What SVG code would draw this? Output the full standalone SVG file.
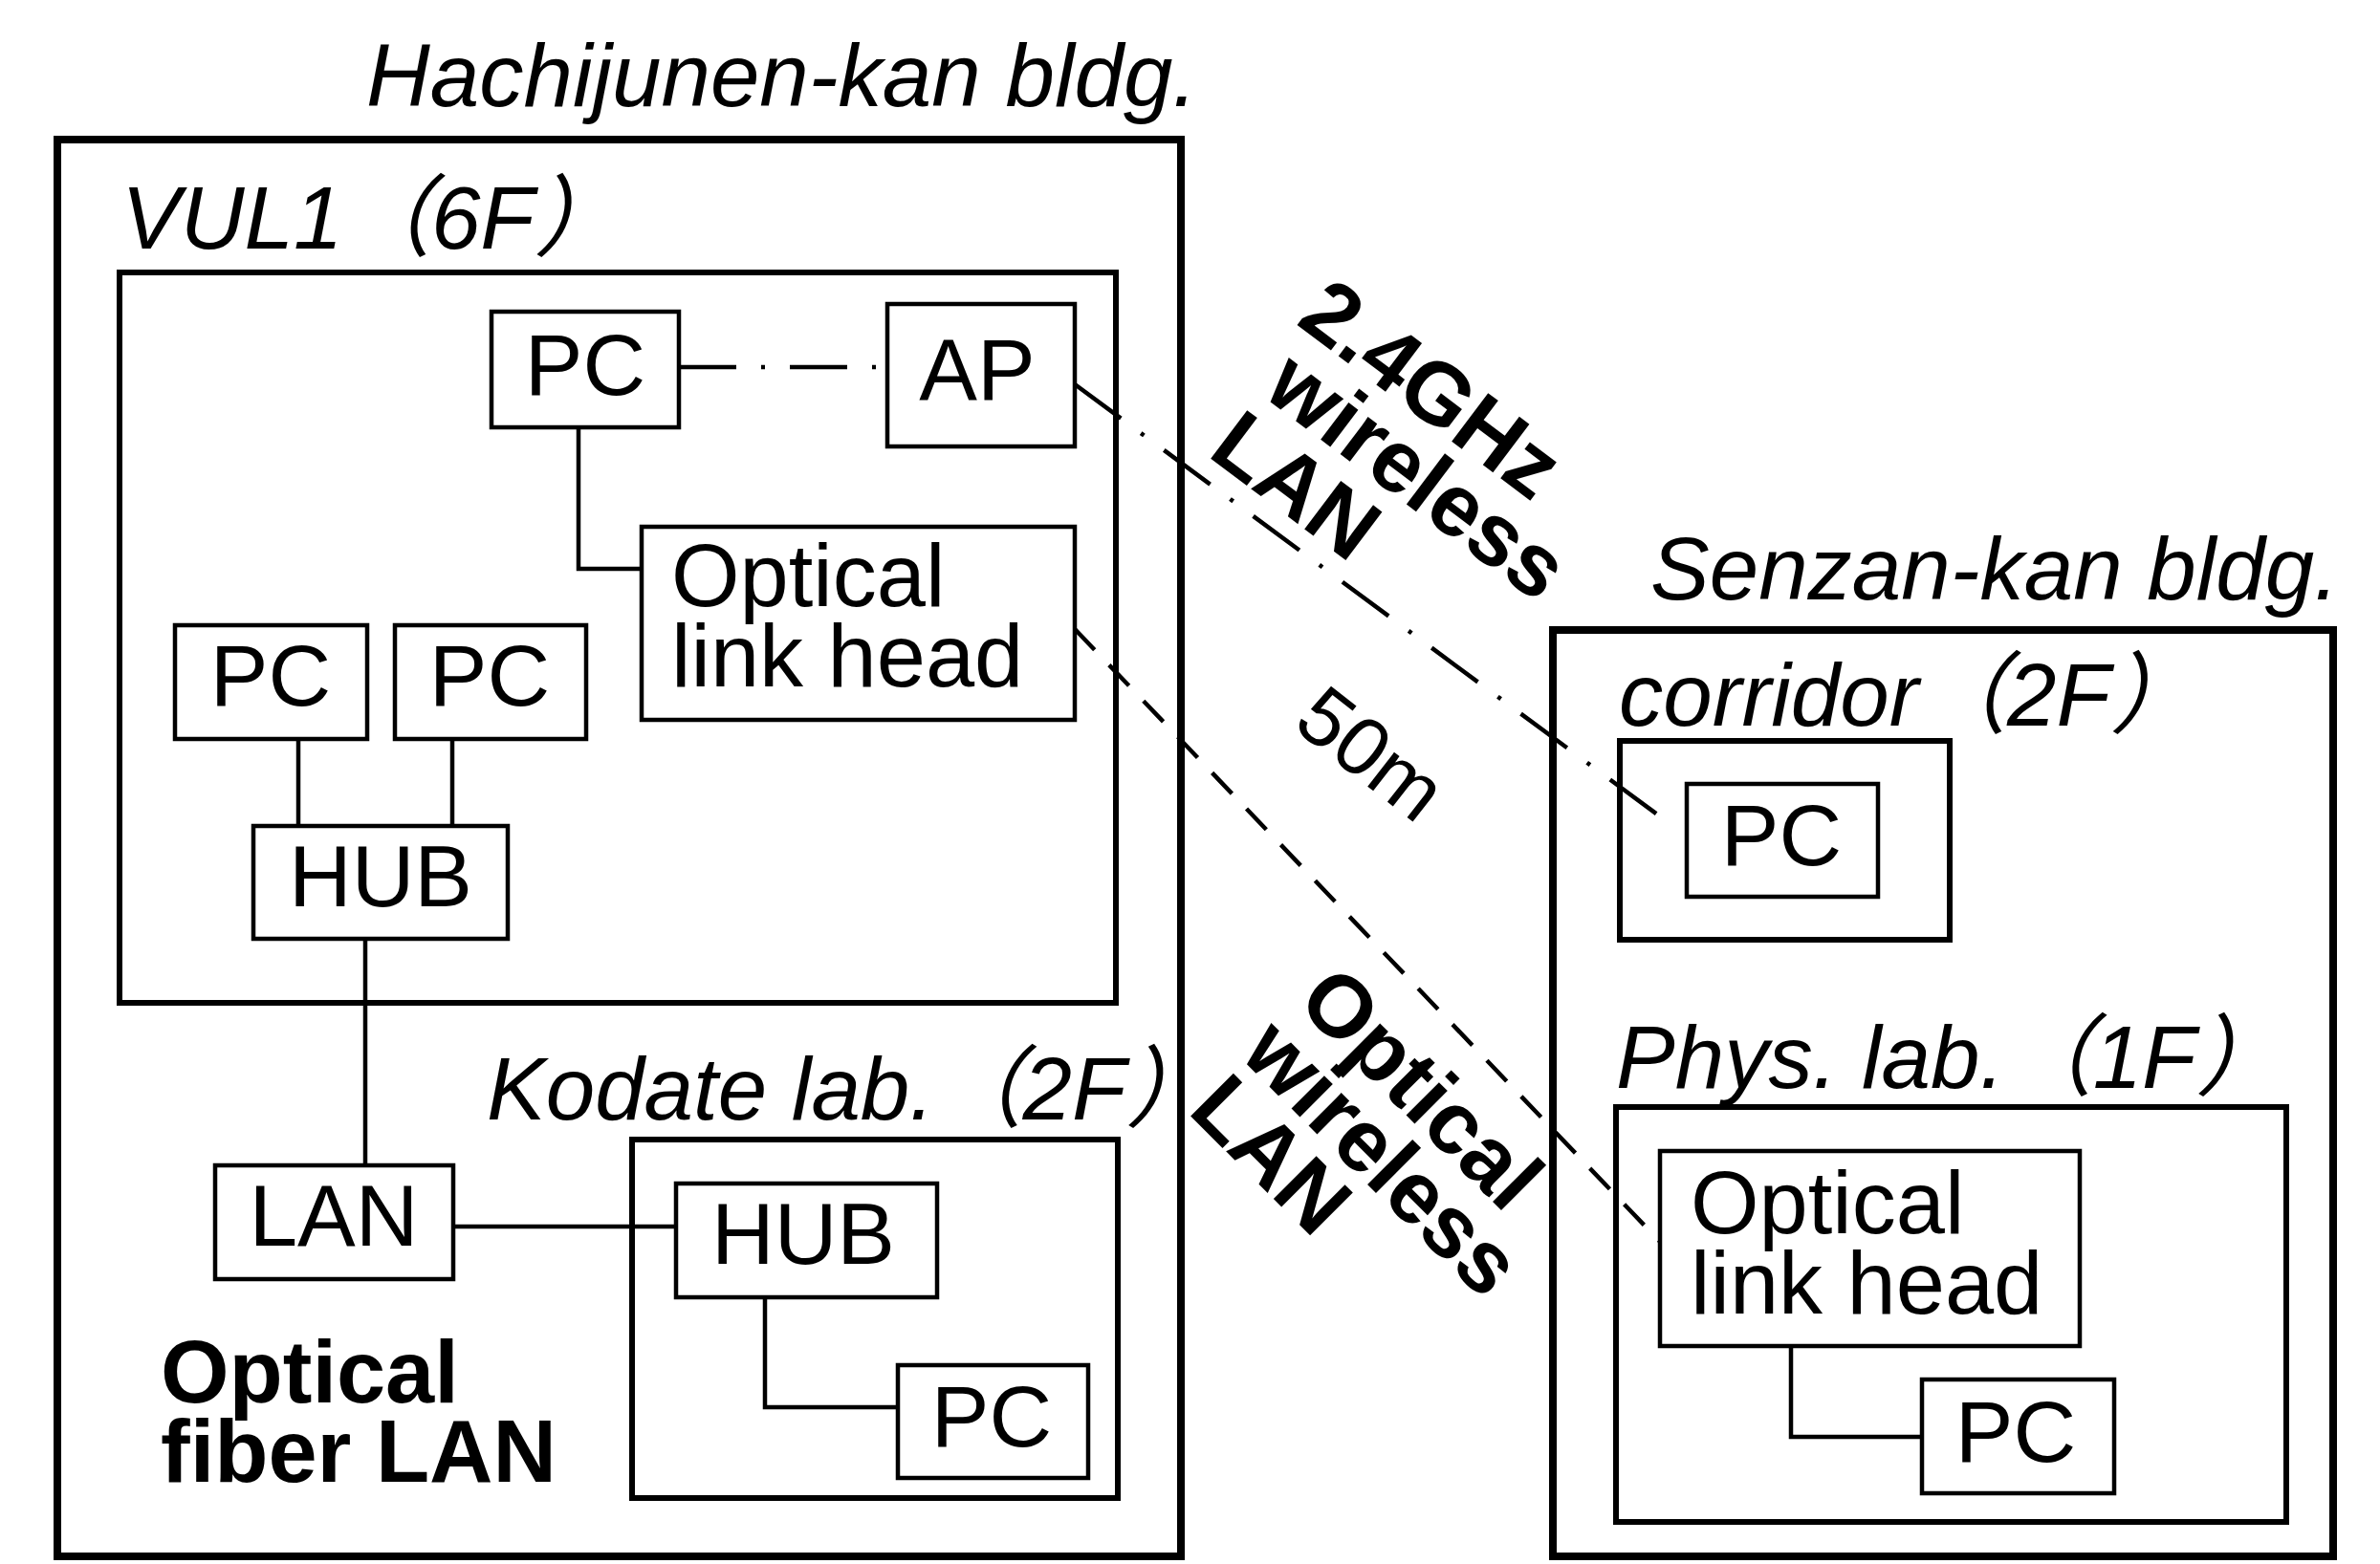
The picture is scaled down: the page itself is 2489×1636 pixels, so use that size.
<svg xmlns="http://www.w3.org/2000/svg" width="2489" height="1636" viewBox="0 0 2489 1636">
<style>
.bldg{fill:none;stroke:#000;stroke-width:8}
.room{fill:none;stroke:#000;stroke-width:6}
.box{fill:#fff;stroke:#000;stroke-width:4.5}
.lbl{font-family:"Liberation Sans","Noto Sans CJK JP",sans-serif;font-size:91px;fill:#000}
.c{text-anchor:middle}
.it{font-style:italic;font-size:92.5px}
.b{font-weight:bold;font-size:92px}
.wire{fill:none;stroke:#000;stroke-width:4.5}
.dd{stroke-dasharray:60 26 4 26}
.da{stroke-dasharray:30 22}
</style>
<rect width="2489" height="1636" fill="#fff"/>

<g id="bldg-hachijunen">
  <rect class="bldg" x="60" y="146" width="1175" height="1482"/>
  <text class="lbl it" x="383" y="111">Hachijunen-kan bldg.</text>
</g>
<g id="room-vul1">
  <rect class="room" x="125" y="285" width="1042" height="764"/>
  <text class="lbl it" x="127" y="260">VUL1（6F）</text>
</g>
<g id="room-kodate">
  <rect class="room" x="661" y="1192" width="508" height="375"/>
  <text class="lbl it" x="509" y="1171">Kodate lab.（2F）</text>
</g>
<g id="bldg-senzan">
  <rect class="bldg" x="1624" y="659" width="816" height="969"/>
  <text class="lbl it" x="1726" y="627">Senzan-kan bldg.</text>
</g>
<g id="room-corridor">
  <rect class="room" x="1694" y="775" width="345" height="208"/>
  <text class="lbl it" x="1693" y="759">corridor（2F）</text>
</g>
<g id="room-phys">
  <rect class="room" x="1690" y="1158" width="701" height="434"/>
  <text class="lbl it" x="1690" y="1138">Phys. lab.（1F）</text>
</g>

<g id="connectors">
  <line class="wire dd" x1="710" y1="384" x2="928" y2="384"/>
  <polyline class="wire" points="605,447 605,595 671,595"/>
  <line class="wire" x1="312" y1="773" x2="312" y2="864"/>
  <line class="wire" x1="473" y1="773" x2="473" y2="864"/>
  <line class="wire" x1="382" y1="982" x2="382" y2="1219"/>
  <line class="wire" x1="474" y1="1283" x2="707" y2="1283"/>
  <polyline class="wire" points="800,1357 800,1472 939,1472"/>
  <polyline class="wire" points="1873,1408 1873,1503 2010,1503"/>
  <line class="wire dd" x1="1124" y1="402" x2="1740" y2="857"/>
  <line class="wire da" x1="1124" y1="658" x2="1740" y2="1303"/>
</g>

<g id="label-24ghz" transform="translate(1354,338) rotate(37)">
  <text class="lbl b" x="0" y="0">2.4GHz</text>
  <text class="lbl b" x="17" y="81">wireless</text>
  <text class="lbl b" x="9" y="166">LAN</text>
</g>
<g id="label-50m" transform="translate(1350,760) rotate(38)">
  <text class="lbl" x="0" y="0" style="font-size:86px">50m</text>
</g>
<g id="label-optical-wireless" transform="translate(1354,1050) rotate(45)">
  <text class="lbl b" x="0" y="0">Optical</text>
  <text class="lbl b" x="-3" y="80">wireless</text>
  <text class="lbl b" x="0" y="160">LAN</text>
</g>
<g id="label-fiber">
  <text class="lbl b" x="168" y="1467">Optical</text>
  <text class="lbl b" x="168" y="1550">fiber LAN</text>
</g>

<g id="pc-vul1-top">
  <rect class="box" x="514" y="326" width="196" height="121"/>
  <text class="lbl c" x="612" y="413">PC</text>
</g>
<g id="ap">
  <rect class="box" x="928" y="318" width="196" height="149"/>
  <text class="lbl c" x="1022" y="418">AP</text>
</g>
<g id="olh-vul1">
  <rect class="box" x="671" y="551" width="453" height="202"/>
  <text class="lbl" x="702" y="634" style="font-size:92px">Optical</text>
  <text class="lbl" x="702" y="718" style="font-size:92px">link head</text>
</g>
<g id="pc-vul1-a">
  <rect class="box" x="183" y="654" width="201" height="119"/>
  <text class="lbl c" x="283" y="738">PC</text>
</g>
<g id="pc-vul1-b">
  <rect class="box" x="413" y="654" width="200" height="119"/>
  <text class="lbl c" x="512" y="738">PC</text>
</g>
<g id="hub-vul1">
  <rect class="box" x="265" y="864" width="266" height="118"/>
  <text class="lbl c" x="398" y="948">HUB</text>
</g>
<g id="lan">
  <rect class="box" x="225" y="1219" width="249" height="119"/>
  <text class="lbl c" x="349" y="1303">LAN</text>
</g>
<g id="hub-kodate">
  <rect class="box" x="707" y="1238" width="273" height="119"/>
  <text class="lbl c" x="840" y="1322">HUB</text>
</g>
<g id="pc-kodate">
  <rect class="box" x="939" y="1428" width="199" height="118"/>
  <text class="lbl c" x="1037" y="1513">PC</text>
</g>
<g id="pc-corridor">
  <rect class="box" x="1764" y="820" width="200" height="118"/>
  <text class="lbl c" x="1863" y="905">PC</text>
</g>
<g id="olh-phys">
  <rect class="box" x="1736" y="1204" width="439" height="204"/>
  <text class="lbl" x="1768" y="1290" style="font-size:92px">Optical</text>
  <text class="lbl" x="1768" y="1374" style="font-size:92px">link head</text>
</g>
<g id="pc-phys">
  <rect class="box" x="2010" y="1443" width="201" height="119"/>
  <text class="lbl c" x="2108" y="1529">PC</text>
</g>
</svg>
